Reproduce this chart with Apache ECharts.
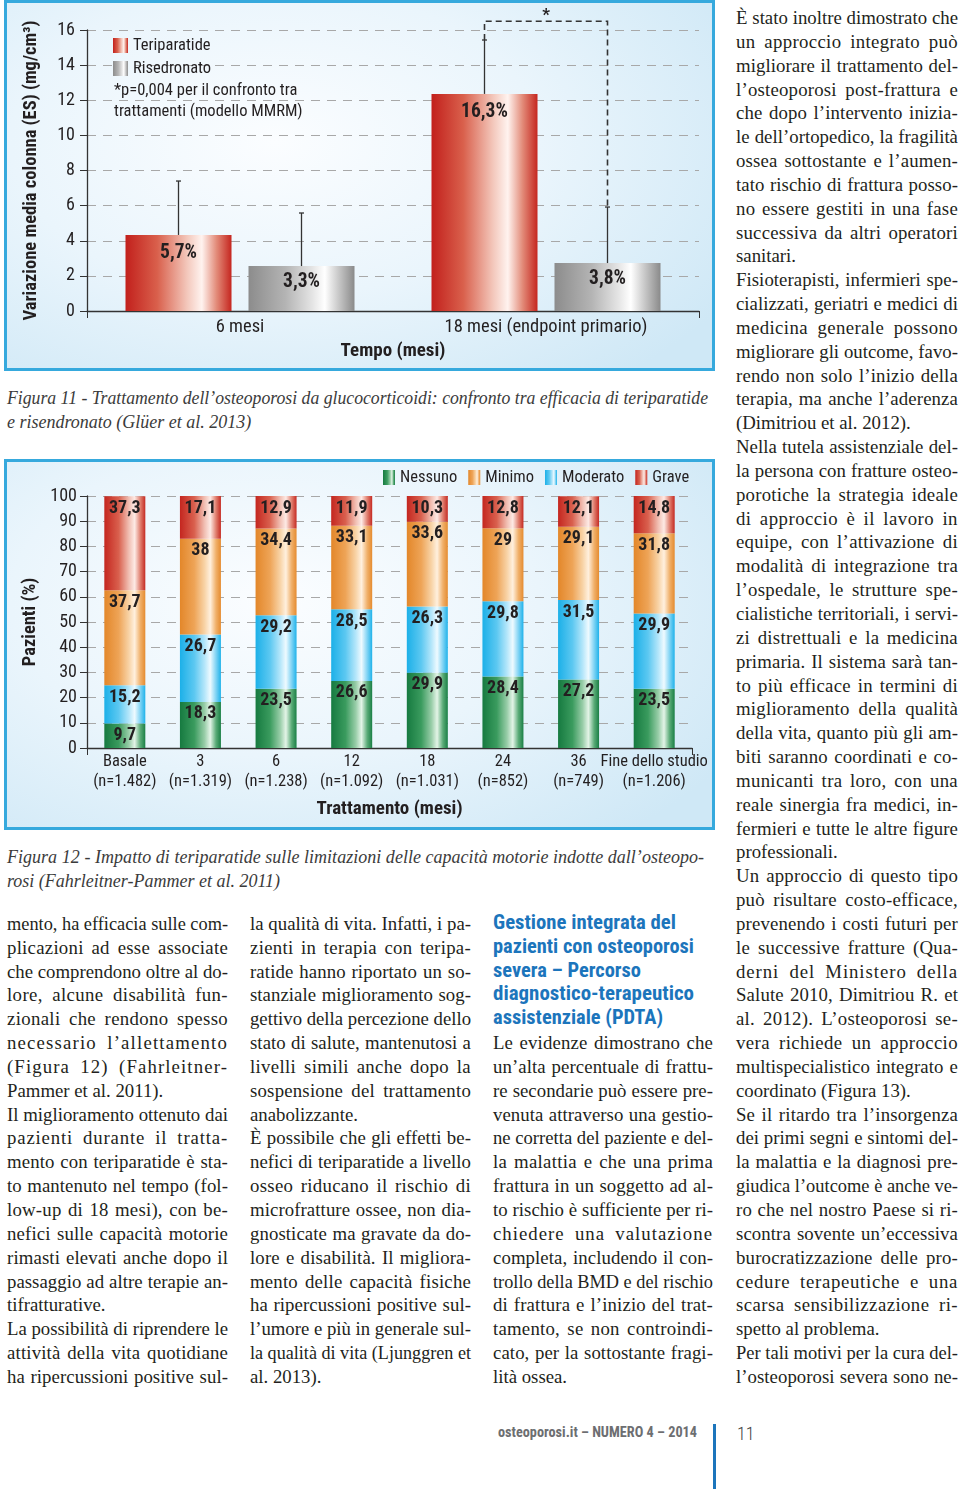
<!DOCTYPE html>
<html><head><meta charset="utf-8">
<script src="https://cdn.jsdelivr.net/npm/echarts@6/dist/echarts.min.js"></script>
<style>
html,body{margin:0;padding:0;background:#fff;}
#page{position:relative;width:960px;height:1489px;overflow:hidden;background:#fff;}
.box{position:absolute;box-sizing:border-box;border:3px solid #36a9dd;
 background:radial-gradient(ellipse 75% 85% at 38% 38%, #fbfdff 0%, #eaf5fc 50%, #cfe8f6 100%);}
.chart{position:absolute;}
.ln{position:absolute;white-space:nowrap;font-family:'Liberation Serif','Times New Roman',serif;font-size:18.8px;line-height:24px;height:24px;color:#231f20;}
.ln span{display:inline-block;transform-origin:0 50%;white-space:pre;}
.cap{font-style:italic;color:#3b3b3b;font-size:18px;}
.hd{font-family:'Roboto Condensed','Liberation Sans',sans-serif;font-weight:bold;color:#1c75bc;font-size:21px;}
.ft{font-family:'Roboto Condensed','Liberation Sans',sans-serif;font-weight:bold;color:#6d6e71;font-size:15px;}
.pg{font-family:'Roboto Condensed','Liberation Sans',sans-serif;font-weight:300;color:#444;font-size:18px;}
</style></head>
<body>
<div id="page">
  <div class="box" style="left:4px;top:0px;width:711px;height:371px"></div>
  <div class="box" style="left:4px;top:459px;width:711px;height:371px"></div>
  <div id="c1" class="chart" style="left:0;top:0;width:720px;height:375px"></div>
  <div id="c2" class="chart" style="left:0;top:455px;width:720px;height:380px"></div>
  <div style="position:absolute;left:713px;top:1424px;width:3px;height:65px;background:#1c75bc"></div>
</div>
<script>
// ---------------- DATA ----------------
// Figure 11
const timeCats = ['6 mesi', '18 mesi (endpoint primario)'];
const teriValues = [4.33, 12.36];
const riseValues = [2.56, 2.73];
const teriErrTop = [7.40, 15.43];
const riseErrTop = [5.58, 5.92];
const teriLabels = ['5,7%', '16,3%'];
const riseLabels = ['3,3%', '3,8%'];
const sigLevel = 16.5;
const fig11Ticks = [0, 2, 4, 6, 8, 10, 12, 14, 16];

// Figure 12
const months = ['Basale', '3', '6', '12', '18', '24', '36', 'Fine dello studio'];
const nLabels = ['(n=1.482)', '(n=1.319)', '(n=1.238)', '(n=1.092)', '(n=1.031)', '(n=852)', '(n=749)', '(n=1.206)'];
const nessuno = [9.7, 18.3, 23.5, 26.6, 29.9, 28.4, 27.2, 23.5];
const moderato = [15.2, 26.7, 29.2, 28.5, 26.3, 29.8, 31.5, 29.9];
const minimo = [37.7, 38, 34.4, 33.1, 33.6, 29, 29.1, 31.8];
const grave = [37.3, 17.1, 12.9, 11.9, 10.3, 12.8, 12.1, 14.8];

// Text
const caption11 = ['Figura 11 - Trattamento dell’osteoporosi da glucocorticoidi: confronto tra efficacia di teriparatide', 'e risendronato (Glüer et al. 2013)'];
const caption12 = ['Figura 12 - Impatto di teriparatide sulle limitazioni delle capacità motorie indotte dall’osteopo-', 'rosi (Fahrleitner-Pammer et al. 2011)'];
const rightCol = [
 ['È stato inoltre dimostrato che','un approccio integrato può','migliorare il trattamento del-','l’osteoporosi post-frattura e','che dopo l’intervento inizia-','le dell’ortopedico, la fragilità','ossea sottostante e l’aumen-','tato rischio di frattura posso-','no essere gestiti in una fase','successiva da altri operatori','sanitari.'],
 ['Fisioterapisti, infermieri spe-','cializzati, geriatri e medici di','medicina generale possono','migliorare gli outcome, favo-','rendo non solo l’inizio della','terapia, ma anche l’aderenza','(Dimitriou et al. 2012).'],
 ['Nella tutela assistenziale del-','la persona con fratture osteo-','porotiche la strategia ideale','di approccio è il lavoro in','equipe, con l’attivazione di','modalità di integrazione tra','l’ospedale, le strutture spe-','cialistiche territoriali, i servi-','zi distrettuali e la medicina','primaria. Il sistema sarà tan-','to più efficace in termini di','miglioramento della qualità','della vita, quanto più gli am-','biti saranno coordinati e co-','municanti tra loro, con una','reale sinergia fra medici, in-','fermieri e tutte le altre figure','professionali.'],
 ['Un approccio di questo tipo','può risultare costo-efficace,','prevenendo i costi futuri per','le successive fratture (Qua-','derni del Ministero della','Salute 2010, Dimitriou R. et','al. 2012). L’osteoporosi se-','vera richiede un approccio','multispecialistico integrato e','coordinato (Figura 13).'],
 ['Se il ritardo tra l’insorgenza','dei primi segni e sintomi del-','la malattia e la diagnosi pre-','giudica l’outcome è anche ve-','ro che nel nostro Paese si ri-','scontra sovente un’eccessiva','burocratizzazione delle pro-','cedure terapeutiche e una','scarsa sensibilizzazione ri-','spetto al problema.'],
 ['Per tali motivi per la cura del-','l’osteoporosi severa sono ne-']
];
const col1 = [
 ['mento, ha efficacia sulle com-','plicazioni ad esse associate','che comprendono oltre al do-','lore, alcune disabilità fun-','zionali che rendono spesso','necessario l’allettamento','(Figura 12) (Fahrleitner-','Pammer et al. 2011).'],
 ['Il miglioramento ottenuto dai','pazienti durante il tratta-','mento con teriparatide è sta-','to mantenuto nel tempo (fol-','low-up di 18 mesi), con be-','nefici sulle capacità motorie','rimasti elevati anche dopo il','passaggio ad altre terapie an-','tifratturative.'],
 ['La possibilità di riprendere le','attività della vita quotidiane','ha ripercussioni positive sul-']
];
const col2 = [
 ['la qualità di vita. Infatti, i pa-','zienti in terapia con teripa-','ratide hanno riportato un so-','stanziale miglioramento sog-','gettivo della percezione dello','stato di salute, mantenutosi a','livelli simili anche dopo la','sospensione del trattamento','anabolizzante.'],
 ['È possibile che gli effetti be-','nefici di teriparatide a livello','osseo riducano il rischio di','microfratture ossee, non dia-','gnosticate ma gravate da do-','lore e disabilità. Il migliora-','mento delle capacità fisiche','ha ripercussioni positive sul-','l’umore e più in generale sul-','la qualità di vita (Ljunggren et','al. 2013).']
];
const col3Heading = ['Gestione integrata del','pazienti con osteoporosi','severa – Percorso','diagnostico-terapeutico','assistenziale (PDTA)'];
const col3HeadingW = [183, 201, 148, 201, 170];
const col3 = [
 ['Le evidenze dimostrano che','un’alta percentuale di frattu-','re secondarie può essere pre-','venuta attraverso una gestio-','ne corretta del paziente e del-','la malattia e che una prima','frattura in un soggetto ad al-','to rischio è sufficiente per ri-','chiedere una valutazione','completa, includendo il con-','trollo della BMD e del rischio','di frattura e l’inizio del trat-','tamento, se non controindi-','cato, per la sottostante fragi-','lità ossea.']
];

// ---------------- TEXT LAYOUT ----------------
const page = document.getElementById('page');
const ROW0 = 18, ROWH = 23.84;
function addLine(x, yc, w, text, cls, mode, topOff) {
  const d = document.createElement('div');
  d.className = 'ln ' + (cls || '');
  d.style.left = x + 'px';
  d.style.top = (yc - (topOff == null ? 12 : topOff)) + 'px';
  d.style.width = w + 'px';
  const s = document.createElement('span');
  s.textContent = text;
  d.appendChild(s);
  page.appendChild(d);
  const nat = s.getBoundingClientRect().width;
  const spaces = (text.match(/ /g) || []).length;
  const chars = text.length;
  if (mode === 'justify') {
    if (nat < w) {
      const extra = w - nat;
      let ws = spaces > 0 ? Math.min(extra * 0.55 / spaces, 4.5) : 0;
      const rest = extra - ws * spaces;
      const ls = rest / chars;
      s.style.wordSpacing = ws + 'px';
      s.style.letterSpacing = ls + 'px';
    } else if (nat > w) s.style.transform = 'scaleX(' + (w / nat) + ')';
  } else if (mode === 'stretch') {
    s.style.transform = 'scaleX(' + (w / nat) + ')';
  } else {
    if (nat > w) s.style.transform = 'scaleX(' + (w / nat) + ')';
  }
}
function layoutCol(paras, x, w, startRow, openEnd) {
  let r = startRow;
  paras.forEach((p, pi) => {
    p.forEach((t, li) => {
      const last = li === p.length - 1;
      const just = !last || (openEnd && pi === paras.length - 1);
      addLine(x, ROW0 + r * ROWH, w, t, '', just ? 'justify' : 'left');
      r++;
    });
  });
  return r;
}
layoutCol(rightCol, 736, 222, 0, true);
layoutCol(col1, 7, 221, 38, true);
layoutCol(col2, 250, 221, 38, false);
col3Heading.forEach((t, i) => addLine(493, ROW0 + (38 + i) * ROWH, col3HeadingW[i], t, 'hd', 'stretch', 14));
layoutCol(col3, 493, 220, 43, false);
addLine(7, 398, 701, caption11[0], 'cap', 'justify');
addLine(7, 422, 400, caption11[1], 'cap', 'left');
addLine(7, 857, 697, caption12[0], 'cap', 'justify');
addLine(7, 881, 400, caption12[1], 'cap', 'left');
addLine(498, 1432, 199, 'osteoporosi.it – NUMERO 4 – 2014', 'ft', 'stretch');
addLine(737, 1434, 40, '11', 'pg', 'left');

// ---------------- CHARTS ----------------
const SANS = "'Roboto Condensed','Liberation Sans Narrow','Liberation Sans',sans-serif";
const TXT = '#231f20';
const G = (stops) => new echarts.graphic.LinearGradient(0, 0, 1, 0, stops.map((c) => ({offset: c[0], color: c[1]})));
const redGrad = G([[0,'#c2201c'],[0.3,'#d9604c'],[0.58,'#f3c7bb'],[0.72,'#fff3ef'],[0.86,'#e28a78'],[1,'#c5261f']]);
const grayGrad = G([[0,'#8c8c8c'],[0.35,'#b4b4b4'],[0.6,'#e4e4e4'],[0.72,'#ffffff'],[0.86,'#c4c4c4'],[1,'#8a8a8a']]);
const greenGrad = G([[0,'#167a40'],[0.35,'#3a9b5e'],[0.6,'#98cda8'],[0.74,'#e3f4e7'],[0.88,'#5aab77'],[1,'#1a7f45']]);
const blueGrad = G([[0,'#1cb0e8'],[0.35,'#5cc8f1'],[0.6,'#b4e6fa'],[0.74,'#eefaff'],[0.88,'#7fd3f4'],[1,'#1fb2ea']]);
const orangeGrad = G([[0,'#e3872a'],[0.35,'#eea457'],[0.6,'#f8d3a6'],[0.74,'#fff0de'],[0.88,'#f0b06a'],[1,'#e58b2f']]);
const red2Grad = G([[0,'#c4261f'],[0.35,'#d9604e'],[0.6,'#f1bfb3'],[0.74,'#fdeae5'],[0.88,'#e07f6f'],[1,'#c52a22']]);

const BAR_W = 106, BAR_GAP = 17, PAIR_OFF = (BAR_W + BAR_GAP) / 2;

const c1 = echarts.init(document.getElementById('c1'), null, {renderer: 'canvas'});
c1.setOption({
  animation: false,
  textStyle: {fontFamily: SANS},
  grid: {left: 87, right: 21, top: 30, bottom: 64, containLabel: false},
  legend: {
    orient: 'vertical', left: 113, top: 37, padding: 0, itemWidth: 15, itemHeight: 15, itemGap: 6, icon: 'rect',
    textStyle: {fontSize: 16.5, color: TXT, fontFamily: SANS},
    data: ['Teriparatide', 'Risedronato']
  },
  graphic: [
    {type: 'text', left: 114, top: 82, style: {text: '*p=0,004 per il confronto tra', font: "16.5px " + SANS, fill: TXT}},
    {type: 'text', left: 114, top: 103, style: {text: 'trattamenti (modello MMRM)', font: "16.5px " + SANS, fill: TXT}}
  ],
  xAxis: {
    type: 'category', data: timeCats,
    axisLine: {lineStyle: {color: '#333', width: 1.3}},
    axisTick: {show: true, length: 7, lineStyle: {color: '#333'}, interval: (i) => i === 0 || i === timeCats.length},
    axisLabel: {fontSize: 18.5, color: TXT, margin: 7, interval: 0, fontFamily: SANS},
    name: 'Tempo (mesi)', nameLocation: 'middle', nameGap: 30,
    nameTextStyle: {fontWeight: 'bold', fontSize: 19, color: TXT, fontFamily: SANS}
  },
  yAxis: {
    type: 'value', min: fig11Ticks[0], max: fig11Ticks[fig11Ticks.length - 1], interval: fig11Ticks[1] - fig11Ticks[0],
    axisLine: {show: true, lineStyle: {color: '#333', width: 1.3}},
    axisTick: {show: true, length: 7, lineStyle: {color: '#333'}},
    axisLabel: {fontSize: 18, color: TXT, margin: 12, fontFamily: SANS},
    splitLine: {lineStyle: {type: [9, 7], color: '#a8a8a8', width: 1}},
    name: 'Variazione media colonna (ES) (mg/cm³)', nameLocation: 'middle', nameRotate: 90, nameGap: 46,
    nameTextStyle: {fontWeight: 'bold', fontSize: 18.5, color: TXT, fontFamily: SANS}
  },
  series: [
    {name: 'Teriparatide', type: 'bar', data: teriValues, barWidth: BAR_W, barGap: (BAR_GAP / BAR_W * 100) + '%',
     itemStyle: {color: redGrad},
     label: {show: true, position: 'insideTop', distance: 8, formatter: (p) => teriLabels[p.dataIndex], fontSize: 19.5, fontWeight: 'bold', color: TXT, fontFamily: SANS}},
    {name: 'Risedronato', type: 'bar', data: riseValues, barWidth: BAR_W,
     itemStyle: {color: grayGrad},
     label: {show: true, position: 'insideTop', distance: 6, formatter: (p) => riseLabels[p.dataIndex], fontSize: 19.5, fontWeight: 'bold', color: TXT, fontFamily: SANS}},
    {type: 'custom', coordinateSystem: 'cartesian2d', z: 5, silent: true,
     data: teriValues.map((v, i) => [i, v, teriErrTop[i], -1]).concat(riseValues.map((v, i) => [i, v, riseErrTop[i], 1])),
     encode: {x: 0, y: [1, 2]},
     renderItem: (params, api) => {
       const c = api.value(0), side = api.value(3);
       const b = api.coord([c, api.value(1)]), t = api.coord([c, api.value(2)]);
       const x = b[0] + side * PAIR_OFF;
       return {type: 'group', children: [
         {type: 'line', shape: {x1: x, y1: b[1], x2: x, y2: t[1]}, style: {stroke: '#333', lineWidth: 1.3}},
         {type: 'line', shape: {x1: x - 2.5, y1: t[1], x2: x + 2.5, y2: t[1]}, style: {stroke: '#333', lineWidth: 1.3}}
       ]};
     }},
    {type: 'custom', coordinateSystem: 'cartesian2d', z: 5, silent: true,
     data: [[1, teriErrTop[1], riseErrTop[1], sigLevel]],
     encode: {x: 0, y: [1, 2, 3]},
     renderItem: (params, api) => {
       const c = api.value(0);
       const a = api.coord([c, api.value(1)]), b = api.coord([c, api.value(2)]), L = api.coord([c, api.value(3)]);
       const x1 = a[0] - PAIR_OFF, x2 = a[0] + PAIR_OFF;
       return {type: 'group', children: [
         {type: 'polyline', shape: {points: [[x1, a[1]], [x1, L[1]], [x2, L[1]], [x2, b[1]]]}, style: {stroke: '#333', lineWidth: 1.6, lineDash: [6, 4], fill: null}},
         {type: 'text', style: {text: '*', x: (x1 + x2) / 2, y: L[1] + 3, align: 'center', verticalAlign: 'bottom', font: "bold 17px " + SANS, fill: TXT}}
       ]};
     }}
  ]
});

const fmt = (v) => String(v).replace('.', ',');
const segLabel = {show: true, position: 'insideTop', distance: 3, formatter: (p) => fmt(p.value), fontSize: 18, fontWeight: 'bold', color: TXT, fontFamily: SANS};
const c2 = echarts.init(document.getElementById('c2'), null, {renderer: 'canvas'});
c2.setOption({
  animation: false,
  textStyle: {fontFamily: SANS},
  grid: {left: 87, right: 28, top: 41, bottom: 87, containLabel: false},
  legend: {
    left: 383, top: 14, padding: 0, itemWidth: 12, itemHeight: 15, itemGap: 11, itemTextGap: 4, icon: 'rect',
    textStyle: {fontSize: 16.5, color: TXT, fontFamily: SANS},
    data: ['Nessuno', 'Minimo', 'Moderato', 'Grave']
  },
  xAxis: {
    type: 'category', data: months,
    axisLine: {lineStyle: {color: '#333', width: 1.3}},
    axisTick: {show: true, length: 7, lineStyle: {color: '#333'}, interval: (i) => i === 0 || i === months.length},
    axisLabel: {fontSize: 16.5, color: TXT, margin: 4, lineHeight: 20, interval: 0, fontFamily: SANS,
      formatter: (v, i) => v + '\n' + nLabels[i]},
    name: 'Trattamento (mesi)', nameLocation: 'middle', nameGap: 52,
    nameTextStyle: {fontWeight: 'bold', fontSize: 19, color: TXT, fontFamily: SANS}
  },
  yAxis: {
    type: 'value', min: 0, max: 100, interval: 10,
    axisLine: {show: true, lineStyle: {color: '#333', width: 1.3}},
    axisTick: {show: true, length: 7, lineStyle: {color: '#333'}},
    axisLabel: {fontSize: 18, color: TXT, margin: 10, fontFamily: SANS},
    splitLine: {lineStyle: {type: [9, 7], color: '#a8a8a8', width: 1}},
    name: 'Pazienti (%)', nameLocation: 'middle', nameRotate: 90, nameGap: 46,
    nameTextStyle: {fontWeight: 'bold', fontSize: 18.5, color: TXT, fontFamily: SANS}
  },
  series: [
    {name: 'Nessuno', type: 'bar', stack: 's', barWidth: 41, data: nessuno, itemStyle: {color: greenGrad}, label: segLabel},
    {name: 'Moderato', type: 'bar', stack: 's', barWidth: 41, data: moderato, itemStyle: {color: blueGrad}, label: segLabel},
    {name: 'Minimo', type: 'bar', stack: 's', barWidth: 41, data: minimo, itemStyle: {color: orangeGrad}, label: segLabel},
    {name: 'Grave', type: 'bar', stack: 's', barWidth: 41, data: grave, itemStyle: {color: red2Grad}, label: segLabel}
  ]
});
</script>
</body></html>
